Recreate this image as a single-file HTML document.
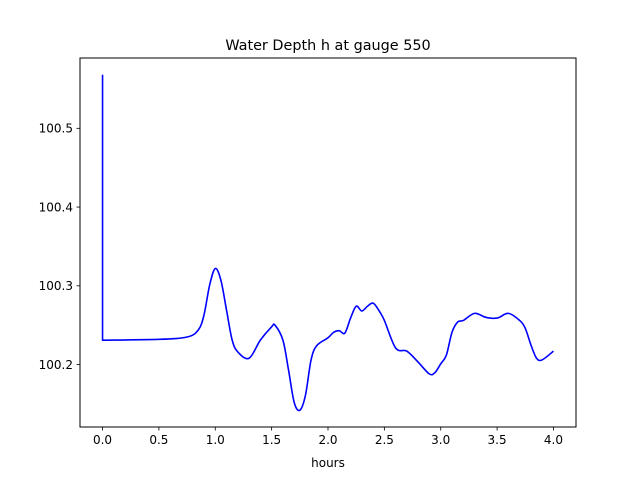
<!DOCTYPE html>
<html><head><meta charset="utf-8">
<style>
body{margin:0;background:#fff;}
svg{display:block;font-family:"DejaVu Sans","Liberation Sans",sans-serif;}
</style></head>
<body>
<svg id="chart" width="640" height="480" viewBox="0 0 640 480">
<rect width="640" height="480" fill="#fff"/>
<text x="328" y="50" font-size="14.4" text-anchor="middle">Water Depth h at gauge 550</text>
<g id="plot"></g>
<text x="328" y="467" font-size="12" text-anchor="middle">hours</text>
</svg>
<script>
const xTicks=[0,0.5,1,1.5,2,2.5,3,3.5,4];
const xTickLabels=["0.0","0.5","1.0","1.5","2.0","2.5","3.0","3.5","4.0"];
const yTicks=[100.2,100.3,100.4,100.5];
const yTickLabels=["100.2","100.3","100.4","100.5"];
const hours=[0,0,0.5,0.75,0.85,0.9,0.95,1.0,1.05,1.1,1.15,1.2,1.3,1.4,1.5,1.53,1.6,1.65,1.7,1.75,1.8,1.85,1.9,2.0,2.05,2.1,2.15,2.2,2.25,2.3,2.35,2.4,2.45,2.5,2.6,2.7,2.8,2.9,2.95,3.0,3.05,3.1,3.15,3.2,3.3,3.4,3.5,3.6,3.7,3.75,3.8,3.85,3.9,4.0];
const depth=[100.568,100.231,100.232,100.235,100.244,100.263,100.301,100.322,100.307,100.269,100.231,100.216,100.208,100.231,100.248,100.250,100.231,100.193,100.152,100.142,100.161,100.206,100.224,100.234,100.241,100.243,100.240,100.259,100.274,100.268,100.274,100.278,100.269,100.256,100.221,100.217,100.203,100.188,100.190,100.201,100.212,100.241,100.254,100.256,100.265,100.260,100.259,100.265,100.256,100.246,100.225,100.208,100.206,100.217];
const L=80,R=576,T=58,B=427;
const xmin=-0.2,xmax=4.2,ymin=100.1207,ymax=100.5893;
const X=v=>L+(v-xmin)/(xmax-xmin)*(R-L);
const Y=v=>B-(v-ymin)/(ymax-ymin)*(B-T);
const NS="http://www.w3.org/2000/svg";
const g=document.getElementById('plot');
function mk(t,a){const e=document.createElementNS(NS,t);for(const k in a)e.setAttribute(k,a[k]);g.appendChild(e);return e;}
const P=hours.map((h,i)=>[X(h),Y(depth[i])]);
let d='M'+P[0][0].toFixed(2)+','+P[0][1].toFixed(2)+' L'+P[1][0].toFixed(2)+','+P[1][1].toFixed(2);
for(let i=1;i<P.length-1;i++){
  const p0=P[Math.max(1,i-1)],p1=P[i],p2=P[i+1],p3=P[Math.min(P.length-1,i+2)];
  const c1=[p1[0]+(p2[0]-p0[0])/6,p1[1]+(p2[1]-p0[1])/6];
  const c2=[p2[0]-(p3[0]-p1[0])/6,p2[1]-(p3[1]-p1[1])/6];
  d+=' C'+c1[0].toFixed(2)+','+c1[1].toFixed(2)+' '+c2[0].toFixed(2)+','+c2[1].toFixed(2)+' '+p2[0].toFixed(2)+','+p2[1].toFixed(2);
}
const line=mk('path',{d:d,fill:'none',stroke:'#0000ff','stroke-width':1.6,'stroke-linejoin':'round'});


const frame=mk('rect',{x:L,y:T,width:R-L,height:B-T,fill:'none',stroke:'#000','stroke-width':1});


xTicks.forEach((v,i)=>{
  const t=mk('line',{x1:X(v),x2:X(v),y1:B,y2:B+3.5,stroke:'#000','stroke-width':0.8});
  
  
  const s=mk('text',{x:X(v),y:B+17,'font-size':12,'text-anchor':'middle'});
  s.textContent=xTickLabels[i];
  
  
});
yTicks.forEach((v,i)=>{
  const t=mk('line',{x1:L-3.5,x2:L,y1:Y(v),y2:Y(v),stroke:'#000','stroke-width':0.8});
  
  
  const s=mk('text',{x:L-7,y:Y(v)+4.3,'font-size':12,'text-anchor':'end'});
  s.textContent=yTickLabels[i];
  
  
});
</script>
</body></html>
